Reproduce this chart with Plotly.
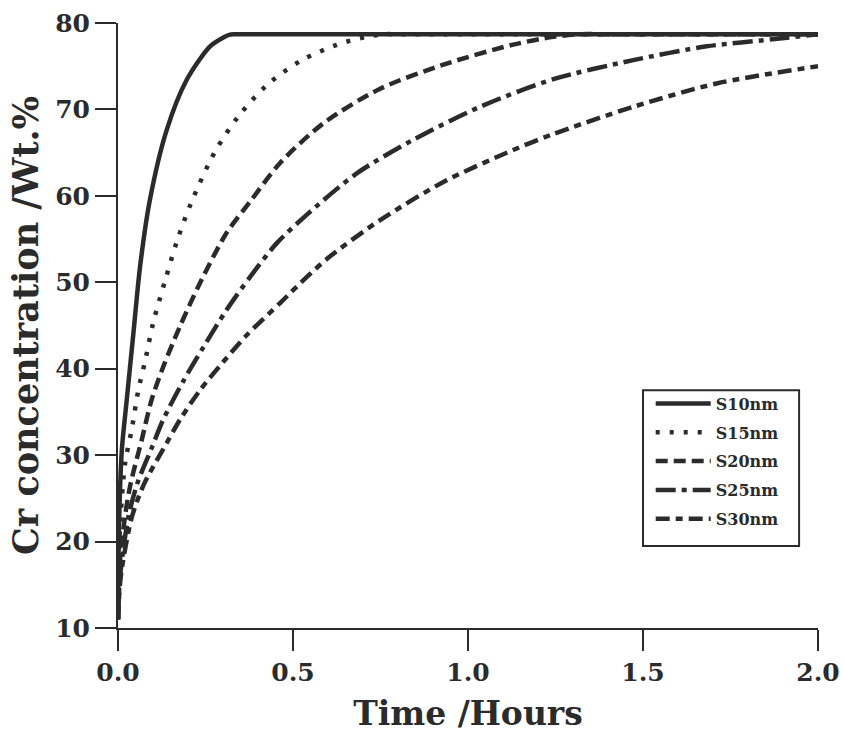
import plotly.graph_objects as go

# ---- data ----
series_names = ["S10nm", "S15nm", "S20nm", "S25nm", "S30nm"]

t_s10 = [0, 0.003, 0.011, 0.025, 0.044, 0.063, 0.091, 0.139, 0.196, 0.263, 0.30, 0.32, 0.33, 0.35, 0.5, 1.0, 1.5, 2.0]
c_s10 = [11, 22, 30.6, 36.4, 44.1, 51.8, 59.5, 67.6, 73.4, 77.3, 78.3, 78.65, 78.7, 78.7, 78.7, 78.7, 78.7, 78.7]

t_s15 = [0, 0.005, 0.02, 0.039, 0.058, 0.077, 0.101, 0.134, 0.168, 0.21, 0.277, 0.344, 0.425, 0.525, 0.634, 0.71, 0.76, 0.8, 1.0, 1.5, 2.0]
c_s15 = [11, 21, 29.0, 32.9, 37.5, 40.8, 45.4, 50.1, 54.7, 59.3, 65.1, 69.2, 72.8, 75.7, 77.6, 78.4, 78.7, 78.7, 78.7, 78.7, 78.7]

t_s20 = [0, 0.004, 0.02, 0.036, 0.068, 0.096, 0.129, 0.177, 0.234, 0.31, 0.377, 0.463, 0.587, 0.749, 0.939, 1.129, 1.244, 1.32, 1.4, 1.6, 2.0]
c_s20 = [11, 17, 22.9, 26.7, 31.8, 36.4, 40.2, 44.9, 49.9, 55.7, 59.3, 63.8, 68.4, 72.4, 75.3, 77.5, 78.4, 78.7, 78.7, 78.7, 78.7]

t_s25 = [0, 0.006, 0.03, 0.055, 0.096, 0.129, 0.187, 0.244, 0.31, 0.377, 0.453, 0.539, 0.682, 0.844, 1.034, 1.244, 1.472, 1.682, 1.891, 2.0]
c_s25 = [11, 16, 22.9, 26.7, 30.8, 34.1, 38.6, 42.5, 46.8, 50.6, 54.5, 57.8, 62.6, 66.5, 70.3, 73.5, 75.7, 77.3, 78.2, 78.7]

t_s30 = [0, 0.008, 0.04, 0.075, 0.139, 0.177, 0.234, 0.301, 0.368, 0.463, 0.539, 0.606, 0.749, 0.939, 1.129, 1.24, 1.472, 1.71, 2.0]
c_s30 = [11, 16, 22.9, 26.7, 31.4, 34.1, 37.5, 40.8, 43.9, 47.6, 50.6, 53.0, 57.2, 61.8, 65.3, 67.1, 70.3, 73.0, 75.0]

x_ticks = [0.0, 0.5, 1.0, 1.5, 2.0]
x_ticklabels = ["0.0", "0.5", "1.0", "1.5", "2.0"]
y_ticks = [10, 20, 30, 40, 50, 60, 70, 80]

# ---- styling ----
ink = "#2b2b2b"
font_family = "DejaVu Serif"
dashes = ["solid", "4px,10px", "12px,6px", "20px,6px,5px,6px", "14px,6px,7px,6px"]
widths = [4.5, 4.5, 4.5, 4.5, 4.5]

xs = [t_s10, t_s15, t_s20, t_s25, t_s30]
ys = [c_s10, c_s15, c_s20, c_s25, c_s30]

fig = go.Figure()
for i, name in enumerate(series_names):
    fig.add_trace(go.Scatter(
        x=xs[i], y=ys[i], name=name, mode="lines",
        legendgroup=name,
        line=dict(color=ink, width=widths[i], dash=dashes[i], shape="spline", smoothing=0.8),
    ))

axis_common = dict(
    showgrid=False, zeroline=False, showline=True, linecolor=ink, linewidth=2,
    ticks="outside", ticklen=21, tickwidth=2, tickcolor=ink,
    tickfont=dict(family=font_family, size=25, color=ink, weight="bold"),
    mirror=False, ticklabeloverflow="allow",
)

# legend frame (drawn as a rectangle so its width can match the reference)
fig.add_shape(type="rect", xref="paper", yref="paper",
              x0=0.75, x1=0.973, y0=0.1355, y1=0.393,
              line=dict(color=ink, width=2), fillcolor="white", layer="above")

fig.update_layout(
    width=844, height=733,
    margin=dict(l=118, r=26, t=23, b=105),
    paper_bgcolor="white", plot_bgcolor="white",
    font=dict(family=font_family, color=ink),
    xaxis=dict(range=[0, 2.0], tickvals=x_ticks, ticktext=x_ticklabels,
               title=dict(text="Time /Hours", font=dict(family=font_family, size=33, color=ink, weight="bold"), standoff=18),
               automargin=False, **axis_common),
    yaxis=dict(range=[10, 80], tickvals=y_ticks,
               title=dict(text="Cr concentration /Wt.%", font=dict(family=font_family, size=35, color=ink, weight="bold"), standoff=6),
               automargin=False, **axis_common),
    legend=dict(
        x=0.761, y=0.399, xanchor="left", yanchor="top",
        bgcolor="rgba(0,0,0,0)", borderwidth=0,
        font=dict(family=font_family, size=16, color=ink, weight="bold"),
        itemwidth=55, tracegroupgap=5, traceorder="grouped",
    ),
    showlegend=True,
)

fig.write_html("out.html", config={"displayModeBar": False},
               post_script="document.body.style.margin='0px';")
